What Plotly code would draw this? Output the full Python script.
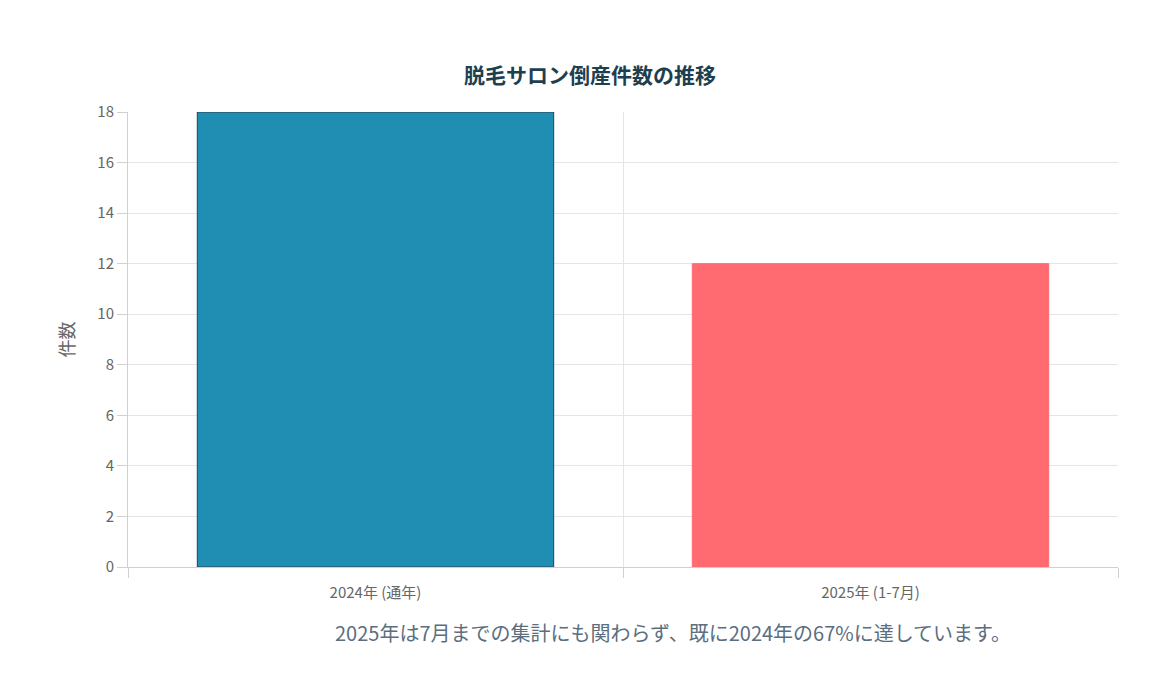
import plotly.graph_objects as go

categories = ["2024年 (通年)", "2025年 (1-7月)"]
counts = [18, 12]
bar_colors = ["#1f8eb2", "#ff6b70"]
line_colors = ["#2c3e50", "#ff6b70"]
positions = [0.5, 1.5]

fig = go.Figure(go.Bar(
    x=positions, y=counts, width=0.72,
    marker=dict(color=bar_colors, line=dict(color=line_colors, width=1)),
    hovertext=categories,
))

fig.update_layout(
    width=1164, height=680,
    paper_bgcolor="white", plot_bgcolor="white",
    margin=dict(l=120, r=54, t=104, b=121),
    font=dict(family="Noto Sans CJK JP, sans-serif", color="#666666", size=15),
    title=dict(text="<b>脱毛サロン倒産件数の推移</b>", x=0.5, xanchor="center",
               y=0.9, yanchor="middle", font=dict(size=21, color="#1d3f4f")),
    showlegend=False,
)
fig.update_xaxes(
    range=[0, 2], tickvals=positions, ticktext=categories, showgrid=False,
    showline=True, linecolor="#d0d0d0", zeroline=False,
    minor=dict(tickvals=[0, 1, 2], showgrid=True, gridcolor="#e5e5e5",
               ticks="outside", ticklen=10, tickcolor="#d0d0d0"),
    ticklabelstandoff=12,
)
fig.update_yaxes(
    range=[0, 18], dtick=2, gridcolor="#e5e5e5", zeroline=False,
    showline=True, linecolor="#d0d0d0", ticks="outside", ticklen=10,
    tickcolor="#d0d0d0",
    title=dict(text="件数", standoff=18),
)
fig.add_annotation(
    text="2025年は7月までの集計にも関わらず、既に2024年の67%に達しています。",
    xref="paper", yref="paper", x=0.55, y=0, yshift=-82, showarrow=False,
    font=dict(size=20, color="#5a6e80"),
)

fig.write_html("out.html")
